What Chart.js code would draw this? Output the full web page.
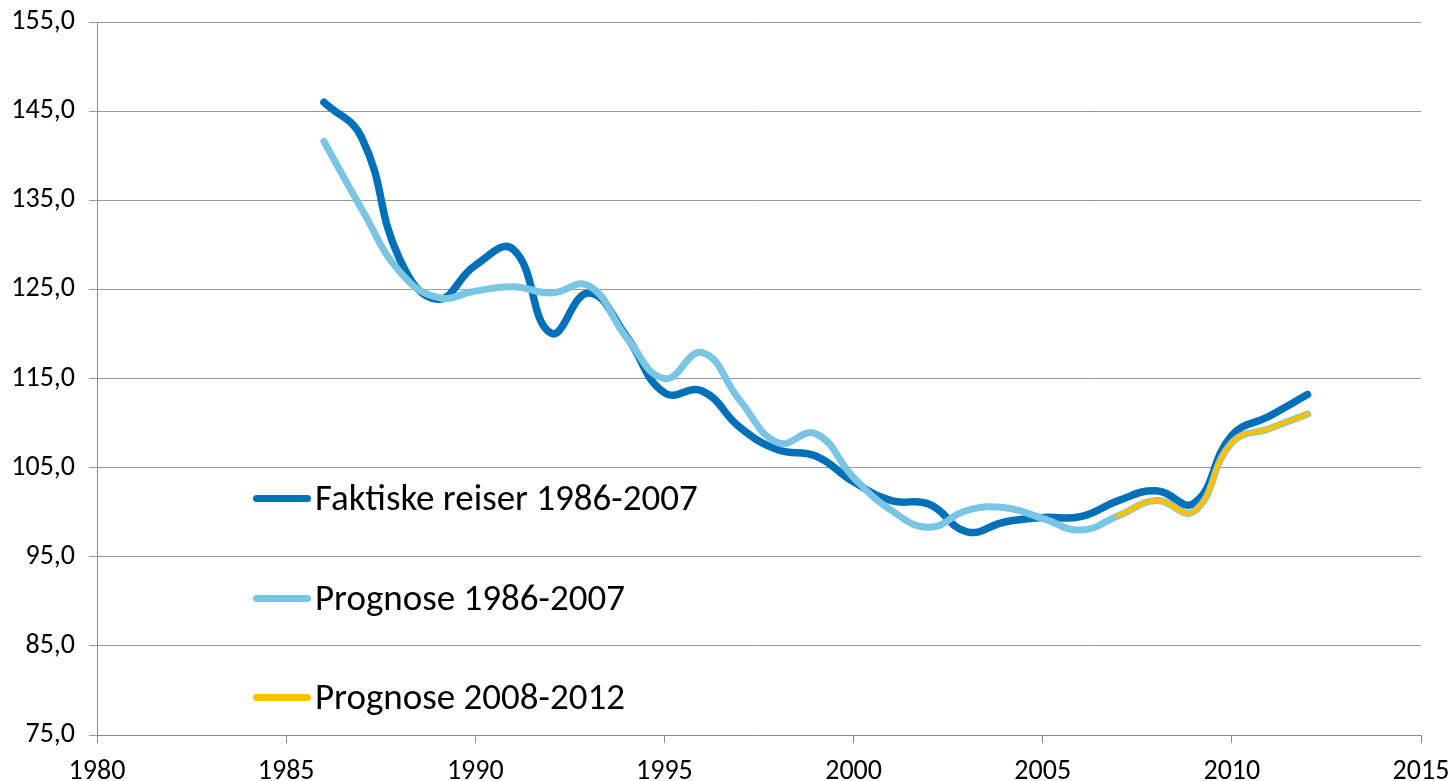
<!DOCTYPE html>
<html>
<head>
<meta charset="utf-8">
<script src="https://cdn.jsdelivr.net/npm/chart.js@4/dist/chart.umd.min.js"></script>
<style>
  html, body { margin: 0; padding: 0; background: #fff; }
  #wrap { position: relative; width: 1452px; height: 781px; }
  #legend { position: absolute; left: 253px; top: 0; font-family: Carlito, Calibri, Lato, sans-serif; }
  .item { position: absolute; left: 0; white-space: nowrap; font-size: 37px; color: #000; line-height: 44px; }
  .item span.swatch { position: absolute; left: 0; top: 19px; width: 58px; height: 7px; border-radius: 3.5px; }
  .item span.txt { position: absolute; left: 62px; top: 0; }
</style>
</head>
<body>
<div id="wrap">
  <canvas id="chart" width="1452" height="781"></canvas>
  <div id="legend"></div>
</div>
<script>
const years = [1986, 1987, 1988, 1989, 1990, 1991, 1992, 1993, 1994, 1995, 1996, 1997, 1998, 1999,
               2000, 2001, 2002, 2003, 2004, 2005, 2006, 2007, 2008, 2009, 2010, 2011, 2012];
const faktiske = [146.0, 142.0, 128.4, 123.9, 127.7, 129.5, 120.1, 124.6, 119.7, 113.4, 113.6, 109.5, 107.0, 106.3,
                  103.4, 101.3, 100.9, 97.8, 98.9, 99.4, 99.5, 101.3, 102.4, 101.0, 108.6, 110.8, 113.2];
const prognose = [141.6, 134.0, 127.0, 124.1, 124.8, 125.3, 124.6, 125.4, 119.6, 115.0, 117.9, 112.5, 107.8, 108.8,
                  103.9, 100.2, 98.3, 100.2, 100.5, 99.3, 98.0, 99.6, 101.3, 100.1, 107.8, 109.4, 111.0];
const prognoseYears2 = [2007, 2008, 2009, 2010, 2011, 2012];
const prognose2 = [99.6, 101.3, 100.1, 107.8, 109.4, 111.0];

const seriesNames = ['Faktiske reiser 1986-2007', 'Prognose 1986-2007', 'Prognose 2008-2012'];
const seriesColors = ['#0070B8', '#7AC5E4', '#FFC000'];
const legendTops = [476, 576, 675];

const font = 'Carlito, Calibri, Lato, sans-serif';

function toPoints(xs, ys) {
    return xs.map((x, i) => ({ x: x, y: ys[i] }));
}

const datasets = [
    { label: seriesNames[2], data: toPoints(prognoseYears2, prognose2), borderColor: seriesColors[2], borderWidth: 5, order: 0 },
    { label: seriesNames[1], data: toPoints(years, prognose), borderColor: seriesColors[1], borderWidth: 7, order: 1 },
    { label: seriesNames[0], data: toPoints(years, faktiske), borderColor: seriesColors[0], borderWidth: 7.5, order: 2 }
];
datasets.forEach(ds => {
    ds.pointRadius = 0;
    ds.tension = 0.45;
    ds.fill = false;
    ds.borderCapStyle = 'round';
    ds.borderJoinStyle = 'round';
});

new Chart(document.getElementById('chart'), {
    type: 'line',
    data: { datasets: datasets },
    options: {
        responsive: false,
        animation: false,
        layout: { padding: { top: 22, right: 31, left: 0, bottom: 0 } },
        plugins: { legend: { display: false }, tooltip: { enabled: false } },
        scales: {
            x: {
                type: 'linear',
                min: 1980,
                max: 2015,
                ticks: { stepSize: 5, color: '#000', font: { family: font, size: 28 }, padding: 12,
                         callback: v => String(v), maxRotation: 0 },
                grid: { drawOnChartArea: false, drawTicks: true, tickLength: 8, color: '#8c8c8c' },
                border: { color: '#8c8c8c', width: 1 },
                afterFit: s => { s.height = 46; s.paddingLeft = 0; s.paddingRight = 0; }
            },
            y: {
                min: 75,
                max: 155,
                ticks: { stepSize: 10, color: '#000', font: { family: font, size: 28 }, padding: 14,
                         callback: v => v.toFixed(1).replace('.', ',') },
                grid: { color: '#999', tickLength: 8, drawTicks: true },
                border: { color: '#8c8c8c', width: 1 },
                afterFit: s => { s.width = 97; s.paddingTop = 0; s.paddingBottom = 0; }
            }
        }
    }
});

// legend sits inside the plot, drawn as real text
const legend = document.getElementById('legend');
seriesNames.forEach((name, i) => {
    const div = document.createElement('div');
    div.className = 'item';
    div.style.top = legendTops[i] + 'px';
    const sw = document.createElement('span');
    sw.className = 'swatch';
    sw.style.background = seriesColors[i];
    const t = document.createElement('span');
    t.className = 'txt';
    t.textContent = name;
    div.appendChild(sw);
    div.appendChild(t);
    legend.appendChild(div);
});
</script>
</body>
</html>
